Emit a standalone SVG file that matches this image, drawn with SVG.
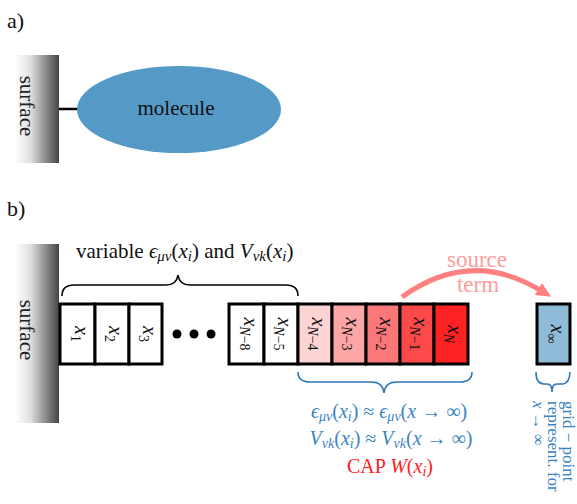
<svg xmlns="http://www.w3.org/2000/svg" width="577" height="504" viewBox="0 0 577 504" font-family="'Liberation Serif', 'DejaVu Serif', serif">
<defs>
<linearGradient id="surf" x1="0" y1="0" x2="1" y2="0">
<stop offset="0" stop-color="#ffffff"/>
<stop offset="0.35" stop-color="#e0e0e0"/>
<stop offset="1" stop-color="#444444"/>
</linearGradient>
<marker id="arr" markerUnits="userSpaceOnUse" markerWidth="20" markerHeight="20" refX="2" refY="7" orient="auto">
<path d="M0,0 L15,7 L0,14 Z" fill="#ff8080"/>
</marker>
</defs>
<style>
.lbl{font-size:22px;fill:#111;}
.box{stroke:#000;stroke-width:3;}
.bx{font-size:20px;font-style:italic;fill:#111;}
.sub{font-size:14px;}
.up{font-style:normal;}
.blue{fill:#3a84c2;font-size:20px;}
.bbrace{fill:none;stroke:#2f77b8;stroke-width:1.6;}
</style>

<!-- panel a -->
<text class="lbl" font-family="'Liberation Serif', serif" x="7" y="28">a)</text>
<g id="surface-a">
<rect x="15" y="55" width="44" height="108" fill="url(#surf)"/>
<text font-family="'Liberation Serif', serif" transform="translate(20,106) rotate(90)" text-anchor="middle" font-size="21" fill="#222">surface</text>
</g>
<g id="connectors-a">
<line x1="59" y1="109" x2="78" y2="109" stroke="#000" stroke-width="2.5"/>
</g>
<g id="molecule">
<ellipse cx="179" cy="109.5" rx="102" ry="43.5" fill="#5599c7"/>
<text font-family="'Liberation Serif', serif" x="176" y="115" text-anchor="middle" font-size="21" fill="#111">molecule</text>
</g>

<!-- panel b -->
<text class="lbl" font-family="'Liberation Serif', serif" x="7" y="216">b)</text>
<g id="surface-b">
<rect x="15" y="244" width="44" height="179" fill="url(#surf)"/>
<text font-family="'Liberation Serif', serif" transform="translate(20,330) rotate(90)" text-anchor="middle" font-size="21" fill="#222">surface</text>
</g>

<g id="label-variable" font-family="'Liberation Serif', serif">
<text x="76" y="258" font-size="21" fill="#111">variable <tspan font-style="italic">ϵ</tspan><tspan font-style="italic" font-size="15" dy="3">μν</tspan><tspan dy="-3">(</tspan><tspan font-style="italic">x</tspan><tspan font-style="italic" font-size="15" dy="3">i</tspan><tspan dy="-3">) and </tspan><tspan font-style="italic">V</tspan><tspan font-style="italic" font-size="15" dy="3">νk</tspan><tspan dy="-3">(</tspan><tspan font-style="italic">x</tspan><tspan font-style="italic" font-size="15" dy="3">i</tspan><tspan dy="-3">)</tspan></text>
</g>

<g id="brace-top">
<path d="M62,296 C62,288 66,285 74,285 L166,285 C172,285 177,282 178,275 C179,282 184,285 190,285 L286,285 C294,285 298,288 298,296" fill="none" stroke="#000" stroke-width="1.6"/>
</g>

<g id="boxes" font-family="'Liberation Serif', serif">
<g id="box-x1">
<rect class="box" x="60" y="304" width="35" height="60" fill="#fff"/>
<text class="bx" transform="translate(77.5,334) rotate(90)" text-anchor="middle" y="3">x<tspan class="sub up" dy="4">1</tspan></text>
</g>
<g id="box-x2">
<rect class="box" x="95" y="304" width="34" height="60" fill="#fff"/>
<text class="bx" transform="translate(112,334) rotate(90)" text-anchor="middle" y="3">x<tspan class="sub up" dy="4">2</tspan></text>
</g>
<g id="box-x3">
<rect class="box" x="129" y="304" width="33" height="60" fill="#fff"/>
<text class="bx" transform="translate(145.5,334) rotate(90)" text-anchor="middle" y="3">x<tspan class="sub up" dy="4">3</tspan></text>
</g>
<g id="dots">
<circle cx="177" cy="334" r="4.5" fill="#000"/>
<circle cx="194" cy="334" r="4.5" fill="#000"/>
<circle cx="211" cy="334" r="4.5" fill="#000"/>
</g>
<g id="box-xN-8">
<rect class="box" x="229" y="304" width="35" height="60" fill="#fff"/>
<text class="bx" transform="translate(246.5,334) rotate(90)" text-anchor="middle" y="3">x<tspan class="sub" dy="4">N</tspan><tspan class="sub up">−8</tspan></text>
</g>
<g id="box-xN-5">
<rect class="box" x="264" y="304" width="34" height="60" fill="#fff"/>
<text class="bx" transform="translate(281,334) rotate(90)" text-anchor="middle" y="3">x<tspan class="sub" dy="4">N</tspan><tspan class="sub up">−5</tspan></text>
</g>
<g id="box-xN-4">
<rect class="box" x="298" y="304" width="34" height="60" fill="#fdd4d4"/>
<text class="bx" transform="translate(315,334) rotate(90)" text-anchor="middle" y="3">x<tspan class="sub" dy="4">N</tspan><tspan class="sub up">−4</tspan></text>
</g>
<g id="box-xN-3">
<rect class="box" x="332" y="304" width="34" height="60" fill="#fda6a6"/>
<text class="bx" transform="translate(349,334) rotate(90)" text-anchor="middle" y="3">x<tspan class="sub" dy="4">N</tspan><tspan class="sub up">−3</tspan></text>
</g>
<g id="box-xN-2">
<rect class="box" x="366" y="304" width="34" height="60" fill="#fc7878"/>
<text class="bx" transform="translate(383,334) rotate(90)" text-anchor="middle" y="3">x<tspan class="sub" dy="4">N</tspan><tspan class="sub up">−2</tspan></text>
</g>
<g id="box-xN-1">
<rect class="box" x="400" y="304" width="34" height="60" fill="#fc4a4a"/>
<text class="bx" transform="translate(417,334) rotate(90)" text-anchor="middle" y="3">x<tspan class="sub" dy="4">N</tspan><tspan class="sub up">−1</tspan></text>
</g>
<g id="box-xN">
<rect class="box" x="434" y="304" width="34" height="60" fill="#ff2222"/>
<text class="bx" transform="translate(451,334) rotate(90)" text-anchor="middle" y="3">x<tspan class="sub" dy="4">N</tspan></text>
</g>
<g id="box-xinf">
<rect class="box" x="537" y="304" width="33" height="60" fill="#8fbad8"/>
<text class="bx" transform="translate(553.5,334) rotate(90)" text-anchor="middle" y="3">x<tspan class="sub up" dy="4" font-size="16">∞</tspan></text>
</g>
</g>

<g id="connectors">
<path d="M402,297 Q470,248 540,290" fill="none" stroke="#ff8080" stroke-width="5" marker-end="url(#arr)"/>
</g>
<g id="label-source" font-family="'Liberation Serif', serif">
<text x="477" y="267" text-anchor="middle" font-size="23" fill="#ff9c9c">source</text>
<text x="478" y="292" text-anchor="middle" font-size="23" fill="#ff9c9c">term</text>
</g>

<g id="brace-cap">
<path class="bbrace" d="M298,372 C298,379 302,382 310,382 L372,382 C378,382 383,385 384,393 C385,385 390,382 396,382 L460,382 C468,382 472,379 472,372"/>
</g>
<g id="label-cap" font-family="'Liberation Serif', serif">
<text class="blue" x="389" y="418" text-anchor="middle"><tspan font-style="italic">ϵ</tspan><tspan font-style="italic" font-size="14" dy="2.5">μν</tspan><tspan dy="-2.5">(</tspan><tspan font-style="italic">x</tspan><tspan font-style="italic" font-size="14" dy="2.5">i</tspan><tspan dy="-2.5">) ≈ </tspan><tspan font-style="italic">ϵ</tspan><tspan font-style="italic" font-size="14" dy="2.5">μν</tspan><tspan dy="-2.5">(</tspan><tspan font-style="italic">x</tspan> → ∞)</text>
<text class="blue" x="391" y="445" text-anchor="middle"><tspan font-style="italic">V</tspan><tspan font-style="italic" font-size="14" dy="2.5">νk</tspan><tspan dy="-2.5">(</tspan><tspan font-style="italic">x</tspan><tspan font-style="italic" font-size="14" dy="2.5">i</tspan><tspan dy="-2.5">) ≈ </tspan><tspan font-style="italic">V</tspan><tspan font-style="italic" font-size="14" dy="2.5">νk</tspan><tspan dy="-2.5">(</tspan><tspan font-style="italic">x</tspan> → ∞)</text>
<text x="390" y="473" text-anchor="middle" font-size="20" fill="#ff2020">CAP <tspan font-style="italic">W</tspan>(<tspan font-style="italic">x</tspan><tspan font-style="italic" font-size="14" dy="2.5">i</tspan><tspan dy="-2.5">)</tspan></text>
</g>

<g id="brace-grid">
<path class="bbrace" d="M536,372 C536,379 538,384 544,384 L547,384 C550,384 552,387 552,392 C552,387 554,384 557,384 L562,384 C567,384 570,379 570,372"/>
</g>
<g id="label-grid" font-family="'Liberation Serif', serif" font-size="17">
<text fill="#3a84c2" transform="translate(563,401) rotate(90)">grid − point</text>
<text fill="#3a84c2" transform="translate(548,401) rotate(90)">represent. for</text>
<text fill="#3a84c2" transform="translate(533,401) rotate(90)"><tspan font-style="italic">x</tspan> → ∞</text>
</g>
</svg>
